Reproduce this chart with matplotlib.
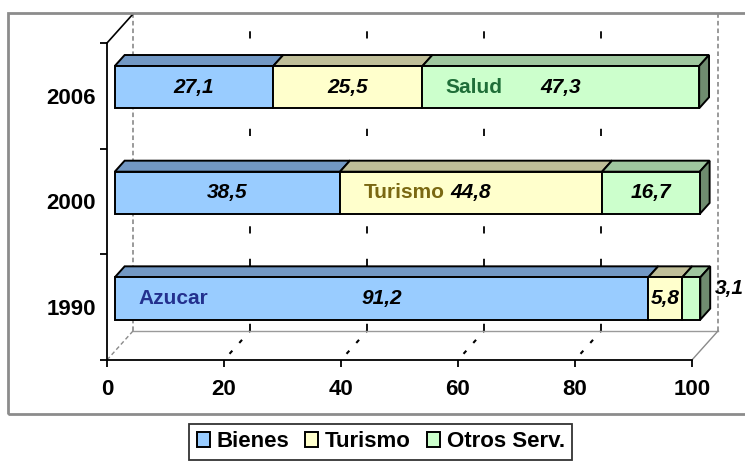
import matplotlib
matplotlib.use('Agg')
import matplotlib.pyplot as plt
from matplotlib.patches import Polygon, Rectangle
import numpy as np

years = ['1990', '2000', '2006']
series_names = ['Bienes', 'Turismo', 'Otros Serv.']
bienes = [91.2, 38.5, 27.1]
turismo = [5.8, 44.8, 25.5]
otros = [3.1, 16.7, 47.3]
value_labels = [['91,2', '5,8', '3,1'],
                ['38,5', '44,8', '16,7'],
                ['27,1', '25,5', '47,3']]
# sector names written inside the bars: (text, year index, series index)
notes = [('Azucar', 0, 0), ('Turismo', 1, 1), ('Salud', 2, 2)]
note_colors = ['#23308E', '#7A6812', '#1F6E38']

front_colors = ['#99CCFF', '#FFFFCC', '#CCFFCC']
top_colors = ['#7298C4', '#BFBE98', '#9FC79F']
side_colors = ['#557399', '#8F8F72', '#6F8C6F']

plt.rcParams['font.family'] = ['Liberation Sans', 'DejaVu Sans']

# 3D look: depth offsets (data units) of the back wall
DX, DY = 4.44, 0.274
D0, F = 0.30, 0.38      # bar front depth and bar depth
BAR_H = 0.40


def proj(x, y, d):
    return (x + d * DX, y + d * DY)


fig = plt.figure(figsize=(7.45, 4.72), dpi=100)
ax = fig.add_axes([0.1436, 0.2373, 0.7852, 0.6716])
ax.set_xlim(0, 100)
ax.set_ylim(-0.5, 2.5)
ax.patch.set_visible(False)

# back wall gridlines and floor gridlines
for v in [20, 40, 60, 80]:
    x0, y0 = proj(v, -0.5, 0)
    x1, y1 = proj(v, -0.5, 1)
    x2, y2 = proj(v, 2.5, 1)
    ax.plot([x1, x2], [y1, y2], color='black', lw=1.3, ls=(0, (4, 14)), clip_on=False, zorder=1)
    ax.plot([x0, x1], [y0, y1], color='black', lw=1.5, ls=(3, (2, 5)), clip_on=False, zorder=1)
for v in [0, 100]:
    x1, y1 = proj(v, -0.5, 1)
    x2, y2 = proj(v, 2.5, 1)
    ax.plot([x1, x2], [y1, y2], color='#7f7f7f', lw=1.1, ls=(0, (3, 2)), clip_on=False, zorder=1)
# floor edges
bl = proj(0, -0.5, 1)
br = proj(100, -0.5, 1)
ax.plot([bl[0], br[0]], [bl[1], br[1]], color='#9a9a9a', lw=1.0, clip_on=False, zorder=1)
ax.plot([0, bl[0]], [-0.5, bl[1]], color='#8a8a8a', lw=1.0, ls=(0, (3, 2)), clip_on=False, zorder=1)
ax.plot([100, br[0]], [-0.5, br[1]], color='#8a8a8a', lw=1.0, clip_on=False, zorder=1)
# top-left edge of the wall
tl = proj(0, 2.5, 1)
ax.plot([0, tl[0]], [2.5, tl[1]], color='black', lw=1.2, clip_on=False, zorder=1)

# bars
data = np.array([bienes, turismo, otros])
ypos = np.arange(len(years))
lefts = np.zeros(len(years))
handles = []
for s in range(3):
    h = ax.barh(ypos + D0 * DY, data[s], left=lefts + D0 * DX, height=BAR_H,
                color=front_colors[s], edgecolor='black', lw=1.4, zorder=3,
                label=series_names[s], clip_on=False)
    handles.append(h)
    for i in ypos:
        a, b = lefts[i], lefts[i] + data[s][i]
        top = i + BAR_H / 2
        pts = [proj(a, top, D0), proj(b, top, D0), proj(b, top, D0 + F), proj(a, top, D0 + F)]
        ax.add_patch(Polygon(pts, closed=True, facecolor=top_colors[s], edgecolor='black',
                             lw=1.4, zorder=2.5, clip_on=False))
    lefts = lefts + data[s]

for i in ypos:
    end = lefts[i]
    pts = [proj(end, i - BAR_H / 2, D0), proj(end, i + BAR_H / 2, D0),
           proj(end, i + BAR_H / 2, D0 + F), proj(end, i - BAR_H / 2, D0 + F)]
    ax.add_patch(Polygon(pts, closed=True, facecolor=side_colors[2], edgecolor='black',
                         lw=1.4, zorder=2.5, clip_on=False))

# value labels
for i in ypos:
    start = 0.0
    for s in range(3):
        v = data[s][i]
        xc, yc = proj(start + v / 2, i, D0)
        if v < 5:
            xc, yc = proj(start + v + 5.0, i + 0.09, D0)
        ax.text(xc, yc, value_labels[i][s], ha='center', va='center', fontsize=15,
                fontweight='bold', fontstyle='italic', zorder=5, clip_on=False)
        start += v

for (txt, i, s), col in zip(notes, note_colors):
    start = data[:s, i].sum()
    xl, yl = proj(start + 4.0, i, D0)
    ax.text(xl, yl, txt, ha='left', va='center', fontsize=15, fontweight='bold',
            color=col, zorder=5)

# axes
for sp in ['top', 'right']:
    ax.spines[sp].set_visible(False)
for sp in ['left', 'bottom']:
    ax.spines[sp].set_linewidth(1.3)
    ax.spines[sp].set_zorder(4)
ax.set_yticks([-0.5, 0.5, 1.5, 2.5])
ax.set_yticklabels([])
ax.set_yticks(ypos, minor=True)
ax.set_yticklabels(years, minor=True, fontsize=16, fontweight='bold')
ax.tick_params(axis='y', which='major', direction='out', length=5, width=1.3)
ax.tick_params(axis='y', which='minor', length=0, pad=8)
ax.set_xticks(np.arange(0, 101, 20))
ax.set_xticklabels([str(v) for v in range(0, 101, 20)], fontsize=16, fontweight='bold')
ax.tick_params(axis='x', direction='out', length=5, width=1.3, pad=9)

# outer frame
fig.patches.append(Rectangle((8 / 745, 58 / 472), 1.0, 401 / 472, transform=fig.transFigure,
                             facecolor='none', edgecolor='#8c8c8c', lw=2.0, zorder=0))

leg = fig.legend(handles=handles, labels=series_names, loc='center', bbox_to_anchor=(0.511, 0.064),
                 ncol=3, frameon=True, fancybox=False, edgecolor='black', fontsize=16,
                 handlelength=0.6, handleheight=0.7, handletextpad=0.3, columnspacing=0.7,
                 borderpad=0.35, borderaxespad=0)
leg.get_frame().set_linewidth(1.3)
for t in leg.get_texts():
    t.set_fontweight('bold')

fig.savefig('out.png', dpi=100)
